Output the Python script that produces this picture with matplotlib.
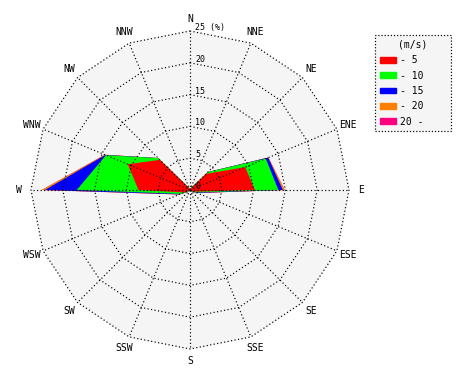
import numpy as np
import matplotlib.pyplot as plt
from matplotlib.patches import Patch

directions = ['N', 'NNE', 'NE', 'ENE', 'E', 'ESE', 'SE', 'SSE',
              'S', 'SSW', 'SW', 'WSW', 'W', 'WNW', 'NW', 'NNW']
speed_labels = ['- 5', '- 10', '- 15', '- 20', '20 -']
colors = ['#ff0000', '#00ff00', '#0000ff', '#ff8000', '#ff0080']
rings = [5, 10, 15, 20, 25]

# frequency (%) per direction, one list per speed class
v5 = [0.1, 0.2, 3.6, 9.4, 10.2, 0.7, 0.2, 0.1, 0.1, 0.1, 0.2, 1.0, 8.1, 10.6, 6.7, 0.3]
v10 = [0.0, 0.1, 0.4, 3.5, 3.7, 0.3, 0.1, 0.0, 0.0, 0.0, 0.1, 0.6, 9.7, 3.7, 0.4, 0.0]
v15 = [0.0, 0.0, 0.0, 0.4, 0.7, 0.2, 0.0, 0.0, 0.0, 0.0, 0.0, 0.2, 5.0, 0.1, 0.0, 0.0]
v20 = [0.0, 0.0, 0.0, 0.05, 0.3, 0.05, 0.0, 0.0, 0.0, 0.0, 0.0, 0.05, 0.5, 0.1, 0.0, 0.0]
v20p = [0.0] * 16

plt.rcParams['font.family'] = 'DejaVu Sans Mono'

theta = np.deg2rad(np.arange(16) * 22.5)
sx, sy = np.sin(theta), np.cos(theta)

fig = plt.figure(figsize=(4.7, 3.8), dpi=100)
ax = fig.add_axes([0, 0, 1, 1])
s = 159 / 25  # px per %
ax.set_xlim(-190 / s, 280 / s)
ax.set_ylim(-190 / s, 190 / s)
ax.set_aspect('equal')
ax.axis('off')

# background disc
ax.fill(25 * sx, 25 * sy, color='#f5f5f5', zorder=0)

# stacked rose, biggest first
cum = np.cumsum([v5, v10, v15, v20, v20p], axis=0)
for k in range(4, -1, -1):
    r = cum[k]
    ax.fill(r * sx, r * sy, color=colors[k], lw=0, zorder=1)

dots = (0, (1, 2))
for rr in rings:
    ax.plot(np.append(rr * sx, rr * sx[0]), np.append(rr * sy, rr * sy[0]),
            color='k', lw=0.85, ls=dots, zorder=2)
for i in range(16):
    ax.plot([0, 25 * sx[i]], [0, 25 * sy[i]], color='k', lw=0.85, ls=dots, zorder=2)

for i, d in enumerate(directions):
    ax.text(26.9 * sx[i], 26.9 * sy[i], d, ha='center', va='center', fontsize=7)

for rr in [0] + rings:
    lab = '25 (%)' if rr == 25 else str(rr)
    ax.text(0.8, rr + 0.55, lab, ha='left', va='center', fontsize=6)

handles = [Patch(color=c) for c in colors]
leg = fig.legend(handles, speed_labels, title='(m/s)', fontsize=7, title_fontsize=7,
                 loc='upper left', bbox_to_anchor=(375 / 470, 1 - 35 / 380, 76 / 470, 0),
                 mode='expand', handlelength=1.65, handleheight=0.5, handletextpad=0.4,
                 labelspacing=0.55, borderpad=0.5, fancybox=False, borderaxespad=0)
fr = leg.get_frame()
fr.set_facecolor('#f5f5f5')
fr.set_edgecolor('k')
fr.set_linestyle(':')
fr.set_linewidth(0.85)
fr.set_alpha(1)

fig.savefig('out.png', dpi=100)
